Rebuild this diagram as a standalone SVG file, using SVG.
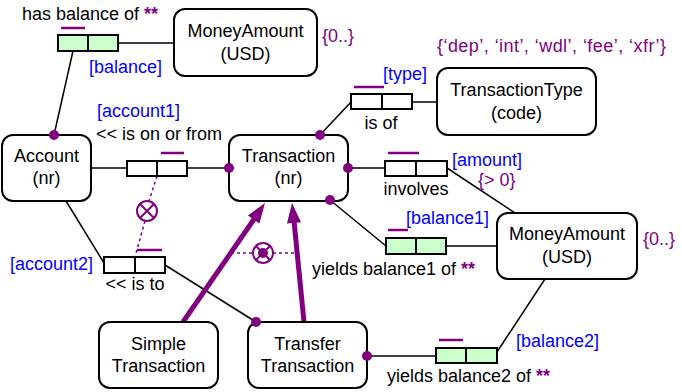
<svg xmlns="http://www.w3.org/2000/svg" width="682" height="392" viewBox="0 0 682 392">
  <style>
    text { font-family: "Liberation Sans", "DejaVu Sans", sans-serif; font-size: 18px; fill: #000; }
    .c { text-anchor: middle; }
    .role { fill: #0000ff; }
    .cons { fill: #800080; }
    .star { fill: #800080; font-weight: bold; }
    .node rect { fill: #fff; stroke: #000; stroke-width: 2; }
    .ft rect { fill: #fff; stroke: #000; stroke-width: 2; }
    .ft.obj rect { fill: #ccffcc; }
    .ft line { stroke: #000; stroke-width: 2; }
    .ft line.uc { stroke: #800080; stroke-width: 2.5; }
    .conn line { stroke: #000; stroke-width: 1.5; }
    .dot { fill: #800080; }
    .conn line.dash { stroke: #800080; stroke-width: 1.5; stroke-dasharray: 3 3; fill: none; }
    .conn line.sub { stroke: #800080; stroke-width: 5; }
    .head { fill: #800080; }
  </style>

  <!-- connectors -->
  <g id="connectors" class="conn">
    <line x1="73" y1="51" x2="54" y2="135"/>
    <line x1="118" y1="43" x2="174" y2="43"/>
    <line x1="351" y1="102" x2="320" y2="135"/>
    <line x1="412" y1="102" x2="437" y2="102"/>
    <line x1="91" y1="168" x2="127" y2="168"/>
    <line x1="187" y1="168" x2="229" y2="168"/>
    <line x1="66" y1="201" x2="104" y2="263"/>
    <line x1="165" y1="265" x2="256" y2="322"/>
    <line x1="348" y1="168" x2="385" y2="168"/>
    <line x1="447" y1="168" x2="515" y2="213"/>
    <line x1="330" y1="200" x2="386" y2="246"/>
    <line x1="446" y1="246" x2="497" y2="246"/>
    <line x1="367" y1="356" x2="436" y2="356"/>
    <line x1="497" y1="352" x2="545" y2="279"/>

    <!-- subtype links -->
    <line class="sub" x1="183" y1="322" x2="254.5" y2="218.5"/>
    <polygon class="head" points="265,203 259.4,223.4 247.9,215.5"/>
    <line class="sub" x1="304" y1="322" x2="294" y2="221"/>
    <polygon class="head" points="292,203 301,222.2 287,223.6"/>

    <!-- exclusion constraint between the account roles -->
    <line class="dash" x1="157" y1="176" x2="149" y2="201"/>
    <line class="dash" x1="145" y1="221" x2="135" y2="257"/>
    <g fill="none" stroke="#800080" stroke-width="2">
      <circle cx="147" cy="211" r="10"/>
      <path d="M140,204 L154,218 M154,204 L140,218"/>
    </g>

    <!-- exclusive-or constraint between subtypes -->
    <line class="dash" x1="231" y1="253" x2="253" y2="253"/>
    <line class="dash" x1="273" y1="253" x2="296" y2="253"/>
    <g fill="none" stroke="#800080" stroke-width="2">
      <circle cx="263" cy="253" r="10"/>
      <path d="M256,246 L270,260 M270,246 L256,260"/>
    </g>
    <circle cx="263" cy="253" r="5" fill="#800080"/>
  </g>

  <!-- fact types -->
  <g id="ft-has-balance" class="ft obj">
    <rect x="58" y="35" width="60" height="16"/>
    <line x1="88" y1="35" x2="88" y2="51"/>
    <line class="uc" x1="61" y1="28" x2="85" y2="28"/>
    <text x="22" y="20">has balance of <tspan class="star">**</tspan></text>
    <text class="role" x="89" y="73">[balance]</text>
  </g>

  <g id="ft-is-of" class="ft">
    <rect x="351" y="94" width="61" height="15"/>
    <line x1="382" y1="94" x2="382" y2="109"/>
    <line class="uc" x1="354" y1="87" x2="384" y2="87"/>
    <text class="c" x="381" y="129">is of</text>
    <text class="role" x="383" y="80">[type]</text>
  </g>

  <g id="ft-on-or-from" class="ft">
    <rect x="127" y="161" width="60" height="15"/>
    <line x1="157" y1="161" x2="157" y2="176"/>
    <line class="uc" x1="161" y1="153" x2="184" y2="153"/>
    <text class="role" x="97" y="117">[account1]</text>
    <text x="96" y="140">&lt;&lt; is on or from</text>
  </g>

  <g id="ft-is-to" class="ft">
    <rect x="104" y="257" width="61" height="16"/>
    <line x1="135" y1="257" x2="135" y2="273"/>
    <line class="uc" x1="137" y1="250" x2="162" y2="250"/>
    <text class="role" x="10" y="270">[account2]</text>
    <text class="c" x="135" y="290">&lt;&lt; is to</text>
  </g>

  <g id="ft-involves" class="ft">
    <rect x="385" y="161" width="62" height="15"/>
    <line x1="416" y1="161" x2="416" y2="176"/>
    <line class="uc" x1="388" y1="153" x2="419" y2="153"/>
    <text class="c" x="416" y="195">involves</text>
    <text class="role" x="452" y="166">[amount]</text>
    <text class="cons" x="478" y="186">{&gt; 0}</text>
  </g>

  <g id="ft-balance1" class="ft obj">
    <rect x="386" y="238" width="60" height="16"/>
    <line x1="416" y1="238" x2="416" y2="254"/>
    <line class="uc" x1="388" y1="230" x2="408" y2="230"/>
    <text class="role" x="406" y="224">[balance1]</text>
    <text x="312" y="275">yields balance1 of <tspan class="star">**</tspan></text>
  </g>

  <g id="ft-balance2" class="ft obj">
    <rect x="436" y="348" width="61" height="15"/>
    <line x1="466" y1="348" x2="466" y2="363"/>
    <line class="uc" x1="439" y1="340" x2="463" y2="340"/>
    <text class="role" x="516" y="347">[balance2]</text>
    <text x="387" y="382">yields balance2 of <tspan class="star">**</tspan></text>
  </g>

  <!-- entity and value types -->
  <g id="money-amount-1" class="node">
    <rect x="174" y="9" width="143" height="67" rx="11"/>
    <text class="c" x="245.5" y="37">MoneyAmount</text>
    <text class="c" x="245.5" y="60">(USD)</text>
    <text class="cons" x="322" y="42">{0..}</text>
  </g>

  <g id="transaction-type" class="node">
    <rect x="437" y="68" width="159" height="67" rx="11"/>
    <text class="c" x="516.5" y="96">TransactionType</text>
    <text class="c" x="516.5" y="119">(code)</text>
    <text class="cons" x="437" y="52" textLength="229" lengthAdjust="spacing">{‘dep’, ‘int’, ‘wdl’, ‘fee’, ‘xfr’}</text>
  </g>

  <g id="account" class="node">
    <rect x="2" y="135" width="89" height="66" rx="11"/>
    <text class="c" x="46.5" y="162">Account</text>
    <text class="c" x="46.5" y="184">(nr)</text>
  </g>

  <g id="transaction" class="node">
    <rect x="229" y="135" width="119" height="66" rx="11"/>
    <text class="c" x="288.5" y="162">Transaction</text>
    <text class="c" x="288.5" y="184">(nr)</text>
  </g>

  <g id="money-amount-2" class="node">
    <rect x="497" y="213" width="140" height="66" rx="11"/>
    <text class="c" x="567" y="240">MoneyAmount</text>
    <text class="c" x="567" y="263">(USD)</text>
    <text class="cons" x="643" y="245">{0..}</text>
  </g>

  <g id="simple-transaction" class="node">
    <rect x="99" y="322" width="119" height="66" rx="11"/>
    <text class="c" x="158.5" y="350">Simple</text>
    <text class="c" x="158.5" y="372">Transaction</text>
  </g>

  <g id="transfer-transaction" class="node">
    <rect x="248" y="322" width="119" height="66" rx="11"/>
    <text class="c" x="307.5" y="350">Transfer</text>
    <text class="c" x="307.5" y="372">Transaction</text>
  </g>

  <!-- role attachment dots, drawn over node borders -->
  <g id="role-dots">
    <circle class="dot" cx="54" cy="135" r="5"/>
    <circle class="dot" cx="229" cy="168" r="5"/>
    <circle class="dot" cx="320" cy="135" r="5"/>
    <circle class="dot" cx="348" cy="168" r="5"/>
    <circle class="dot" cx="330" cy="200" r="5"/>
    <circle class="dot" cx="256" cy="322" r="5"/>
    <circle class="dot" cx="367" cy="356" r="5"/>
  </g>
</svg>
